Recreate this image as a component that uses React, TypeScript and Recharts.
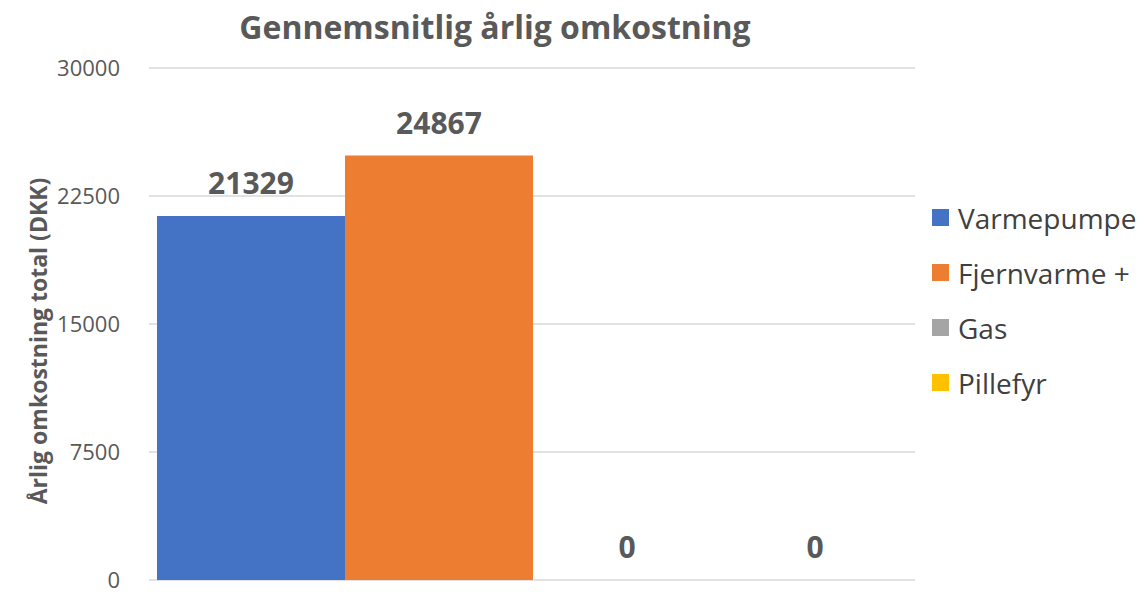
import { BarChart, Bar, XAxis, YAxis, CartesianGrid, Legend, LabelList } from "recharts";

const seriesNames = ["Varmepumpe", "Fjernvarme +", "Gas", "Pillefyr"];
const seriesValues = [21329, 24867, 0, 0];
const seriesColors = ["#4472C4", "#ED7D31", "#A5A5A5", "#FFC000"];
const yTicks = [0, 7500, 15000, 22500, 30000];

const row: Record<string, number | string> = { name: "" };
seriesNames.forEach((n, i) => {
  row[n] = seriesValues[i];
});
const data = [row];

const font = "'Open Sans', sans-serif";

function LegendBox() {
  return (
    <div style={{ fontFamily: font }}>
      {seriesNames.map((n, i) => (
        <div key={n} style={{ display: "flex", alignItems: "center", height: 55 }}>
          <span style={{ width: 17, height: 17, background: seriesColors[i], marginRight: 9 }} />
          <span style={{ fontSize: 28, color: "#404040" }}>{n}</span>
        </div>
      ))}
    </div>
  );
}

function YLabel(props: any) {
  const vb = props.viewBox;
  const x = vb.x + 17;
  const y = vb.y + vb.height / 2 + 17;
  return (
    <text
      x={x}
      y={y}
      transform={`rotate(-90 ${x} ${y})`}
      textAnchor="middle"
      dominantBaseline="central"
      fill="#595959"
      fontSize={23}
      fontWeight="bold"
      fontFamily={font}
    >
      Årlig omkostning total (DKK)
    </text>
  );
}

function ValueLabel(props: any) {
  const { x, y, width, value } = props;
  return (
    <text
      x={Number(x) + Number(width) / 2}
      y={Number(y) - 22}
      textAnchor="middle"
      fill="#595959"
      fontSize={30}
      fontWeight="bold"
      fontFamily={font}
    >
      {String(value)}
    </text>
  );
}

export default function App() {
  return (
    <div style={{ position: "relative", width: 1146, height: 594, background: "#fff" }}>
      <style>{`body{margin:0;background:#fff}`}</style>
      <div
        style={{
          position: "absolute",
          left: 0,
          top: 7,
          width: 990,
          textAlign: "center",
          fontFamily: font,
          fontWeight: "bold",
          fontSize: 32,
          lineHeight: "40px",
          color: "#595959",
        }}
      >
        Gennemsnitlig årlig omkostning
      </div>
      <BarChart
        width={1146}
        height={594}
        data={data}
        margin={{ top: 68, right: 17, bottom: 14, left: 21 }}
        barCategoryGap={8}
        barGap={0}
      >
        <CartesianGrid vertical={false} stroke="#D9D9D9" strokeWidth={1.5} />
        <XAxis dataKey="name" hide />
        <YAxis
          domain={[0, 30000]}
          ticks={yTicks}
          interval={0}
          axisLine={false}
          tickLine={false}
          tickSize={0}
          tickMargin={29}
          width={128}
          tick={{ fill: "#595959", fontSize: 22, fontFamily: font }}
          label={<YLabel />}
        />
        <Legend
          layout="vertical"
          align="right"
          verticalAlign="top"
          content={() => <LegendBox />}
          wrapperStyle={{ left: 932, top: 190, width: 214 }}
        />
        {seriesNames.map((n, i) => (
          <Bar key={n} dataKey={n} fill={seriesColors[i]} minPointSize={0.1} isAnimationActive={false}>
            <LabelList dataKey={n} content={<ValueLabel />} />
          </Bar>
        ))}
      </BarChart>
    </div>
  );
}
